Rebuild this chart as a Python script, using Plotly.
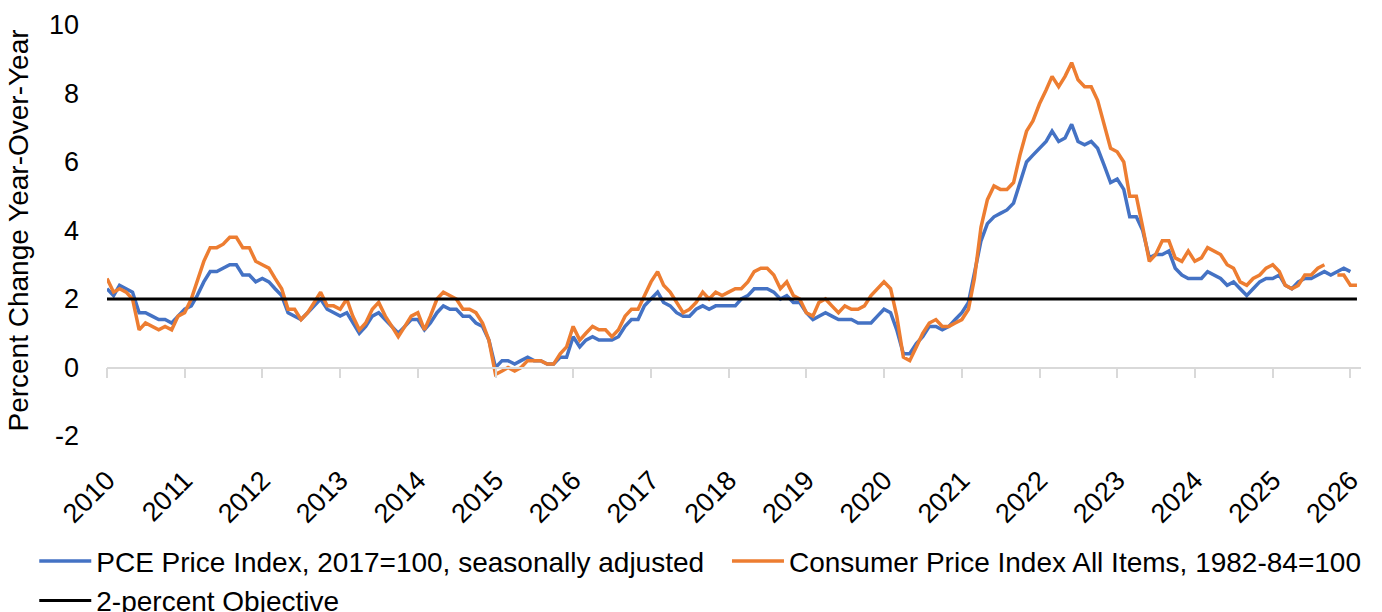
import plotly.graph_objects as go

# Monthly observations, January 2010 onward
start_year = 2010
pce = [
    # 2010
    2.3, 2.1, 2.4, 2.3, 2.2, 1.6, 1.6, 1.5, 1.4, 1.4, 1.3, 1.5,
    # 2011
    1.7, 1.8, 2.1, 2.5, 2.8, 2.8, 2.9, 3.0, 3.0, 2.7, 2.7, 2.5,
    # 2012
    2.6, 2.5, 2.3, 2.1, 1.6, 1.5, 1.4, 1.6, 1.8, 2.0, 1.7, 1.6,
    # 2013
    1.5, 1.6, 1.3, 1.0, 1.2, 1.5, 1.6, 1.4, 1.2, 1.0, 1.2, 1.4,
    # 2014
    1.4, 1.1, 1.3, 1.6, 1.8, 1.7, 1.7, 1.5, 1.5, 1.3, 1.2, 0.8,
    # 2015
    0.0, 0.2, 0.2, 0.1, 0.2, 0.3, 0.2, 0.2, 0.1, 0.1, 0.3, 0.3,
    # 2016
    0.9, 0.6, 0.8, 0.9, 0.8, 0.8, 0.8, 0.9, 1.2, 1.4, 1.4, 1.8,
    # 2017
    2.0, 2.2, 1.9, 1.8, 1.6, 1.5, 1.5, 1.7, 1.8, 1.7, 1.8, 1.8,
    # 2018
    1.8, 1.8, 2.0, 2.1, 2.3, 2.3, 2.3, 2.2, 2.0, 2.1, 1.9, 1.9,
    # 2019
    1.6, 1.4, 1.5, 1.6, 1.5, 1.4, 1.4, 1.4, 1.3, 1.3, 1.3, 1.5,
    # 2020
    1.7, 1.6, 1.1, 0.4, 0.4, 0.7, 0.9, 1.2, 1.2, 1.1, 1.2, 1.4,
    # 2021
    1.6, 1.9, 2.7, 3.7, 4.2, 4.4, 4.5, 4.6, 4.8, 5.4, 6.0, 6.2,
    # 2022
    6.4, 6.6, 6.9, 6.6, 6.7, 7.1, 6.6, 6.5, 6.6, 6.4, 5.9, 5.4,
    # 2023
    5.5, 5.2, 4.4, 4.4, 4.0, 3.2, 3.3, 3.3, 3.4, 2.9, 2.7, 2.6,
    # 2024
    2.6, 2.6, 2.8, 2.7, 2.6, 2.4, 2.5, 2.3, 2.1, 2.3, 2.5, 2.6,
    # 2025
    2.6, 2.7, 2.4, 2.3, 2.5, 2.6, 2.6, 2.7, 2.8, 2.7, 2.8, 2.9,
    # 2026
    2.8, None,
]

cpi = [
    # 2010
    2.6, 2.2, 2.3, 2.2, 2.0, 1.1, 1.3, 1.2, 1.1, 1.2, 1.1, 1.5,
    # 2011
    1.6, 2.0, 2.5, 3.1, 3.5, 3.5, 3.6, 3.8, 3.8, 3.5, 3.5, 3.1,
    # 2012
    3.0, 2.9, 2.6, 2.3, 1.7, 1.7, 1.4, 1.6, 1.9, 2.2, 1.8, 1.8,
    # 2013
    1.7, 2.0, 1.5, 1.1, 1.3, 1.7, 1.9, 1.5, 1.2, 0.9, 1.2, 1.5,
    # 2014
    1.6, 1.1, 1.5, 2.0, 2.2, 2.1, 2.0, 1.7, 1.7, 1.6, 1.3, 0.8,
    # 2015
    -0.2, -0.1, 0.0, -0.1, 0.0, 0.2, 0.2, 0.2, 0.1, 0.1, 0.4, 0.6,
    # 2016
    1.2, 0.8, 1.0, 1.2, 1.1, 1.1, 0.9, 1.1, 1.5, 1.7, 1.7, 2.1,
    # 2017
    2.5, 2.8, 2.4, 2.2, 1.9, 1.6, 1.7, 1.9, 2.2, 2.0, 2.2, 2.1,
    # 2018
    2.2, 2.3, 2.3, 2.5, 2.8, 2.9, 2.9, 2.7, 2.3, 2.5, 2.1, 2.0,
    # 2019
    1.6, 1.5, 1.9, 2.0, 1.8, 1.6, 1.8, 1.7, 1.7, 1.8, 2.1, 2.3,
    # 2020
    2.5, 2.3, 1.5, 0.3, 0.2, 0.6, 1.0, 1.3, 1.4, 1.2, 1.2, 1.3,
    # 2021
    1.4, 1.7, 2.6, 4.1, 4.9, 5.3, 5.2, 5.2, 5.4, 6.2, 6.9, 7.2,
    # 2022
    7.7, 8.1, 8.5, 8.2, 8.5, 8.9, 8.4, 8.2, 8.2, 7.8, 7.1, 6.4,
    # 2023
    6.3, 6.0, 5.0, 5.0, 4.1, 3.1, 3.3, 3.7, 3.7, 3.2, 3.1, 3.4,
    # 2024
    3.1, 3.2, 3.5, 3.4, 3.3, 3.0, 2.9, 2.5, 2.4, 2.6, 2.7, 2.9,
    # 2025
    3.0, 2.8, 2.4, 2.3, 2.4, 2.7, 2.7, 2.9, 3.0, None, 2.7, 2.7,
    # 2026
    2.4, 2.4,
]

objective = [2.0] * len(cpi)

dates = [f"{start_year + i // 12}-{i % 12 + 1:02d}-01" for i in range(len(cpi))]

year_ticks = list(range(2010, 2027))
tick_vals = [f"{y}-01-01" for y in year_ticks]
tick_text = [str(y) for y in year_ticks]

y_ticks = [-2, 0, 2, 4, 6, 8, 10]
y_tick_text = ["-2", "0", "2", "4", "6", "8", "10"]

names = [
    "PCE Price Index, 2017=100, seasonally adjusted",
    "Consumer Price Index All Items, 1982-84=100",
    "2-percent Objective",
]
colors = ["#4472C4", "#ED7D31", "#000000"]

FONT = "Liberation Sans, Arial, sans-serif"
TICK_SIZE = 27
TITLE_SIZE = 28
LEGEND_SIZE = 28

fig = go.Figure()
fig.add_trace(go.Scatter(x=dates, y=pce, mode="lines", name=names[0],
                         legend="legend",
                         line=dict(color=colors[0], width=3.5), connectgaps=False))
fig.add_trace(go.Scatter(x=dates, y=cpi, mode="lines", name=names[1],
                         legend="legend2",
                         line=dict(color=colors[1], width=3.5), connectgaps=False))
fig.add_trace(go.Scatter(x=dates, y=objective, mode="lines", name=names[2],
                         legend="legend", xaxis="x2",
                         line=dict(color=colors[2], width=3)))

x_range = ["2010-01-01", "2026-02-20"]

legend_common = dict(
    orientation="v",
    xanchor="left", yanchor="top",
    font=dict(family=FONT, size=LEGEND_SIZE, color="#000000"),
    itemwidth=52,
    bgcolor="rgba(0,0,0,0)",
    tracegroupgap=0,
    traceorder="normal",
)

fig.update_layout(
    width=1382, height=612,
    margin=dict(l=107, r=21, t=25, b=176, autoexpand=False),
    paper_bgcolor="white", plot_bgcolor="white",
    font=dict(family=FONT, size=TICK_SIZE, color="#000000"),
    showlegend=True,
    legend=dict(x=-0.058, y=-0.244, **legend_common),
    legend2=dict(x=0.4944, y=-0.244, **legend_common),
    xaxis=dict(
        type="date", range=x_range,
        tickmode="array", tickvals=tick_vals, ticktext=tick_text,
        tickangle=-45, showgrid=False, zeroline=False, showline=False,
        ticks="", tickfont=dict(family=FONT, size=TICK_SIZE, color="#000000"),
        ticklabelstandoff=22,
    ),
    xaxis2=dict(
        type="date", range=x_range, matches="x", overlaying="x",
        anchor="free", position=2 / 12,
        tickmode="array", tickvals=tick_vals,
        showticklabels=False, showgrid=False, zeroline=False,
        showline=True, linecolor="#D9D9D9", linewidth=1.5,
        ticks="outside", ticklen=10, tickcolor="#D9D9D9", tickwidth=1.5,
    ),
    yaxis=dict(
        range=[-2, 10], tickmode="array", tickvals=y_ticks, ticktext=y_tick_text,
        showgrid=False, zeroline=False, showline=False, ticks="",
        tickfont=dict(family=FONT, size=TICK_SIZE, color="#000000"),
        ticklabelstandoff=27,
        title=dict(text="Percent Change Year-Over-Year",
                   font=dict(family=FONT, size=TITLE_SIZE, color="#000000"),
                   standoff=12),
    ),
)

fig.write_html("out.html", config={"displayModeBar": False},
               post_script="document.body.style.margin='0';")
